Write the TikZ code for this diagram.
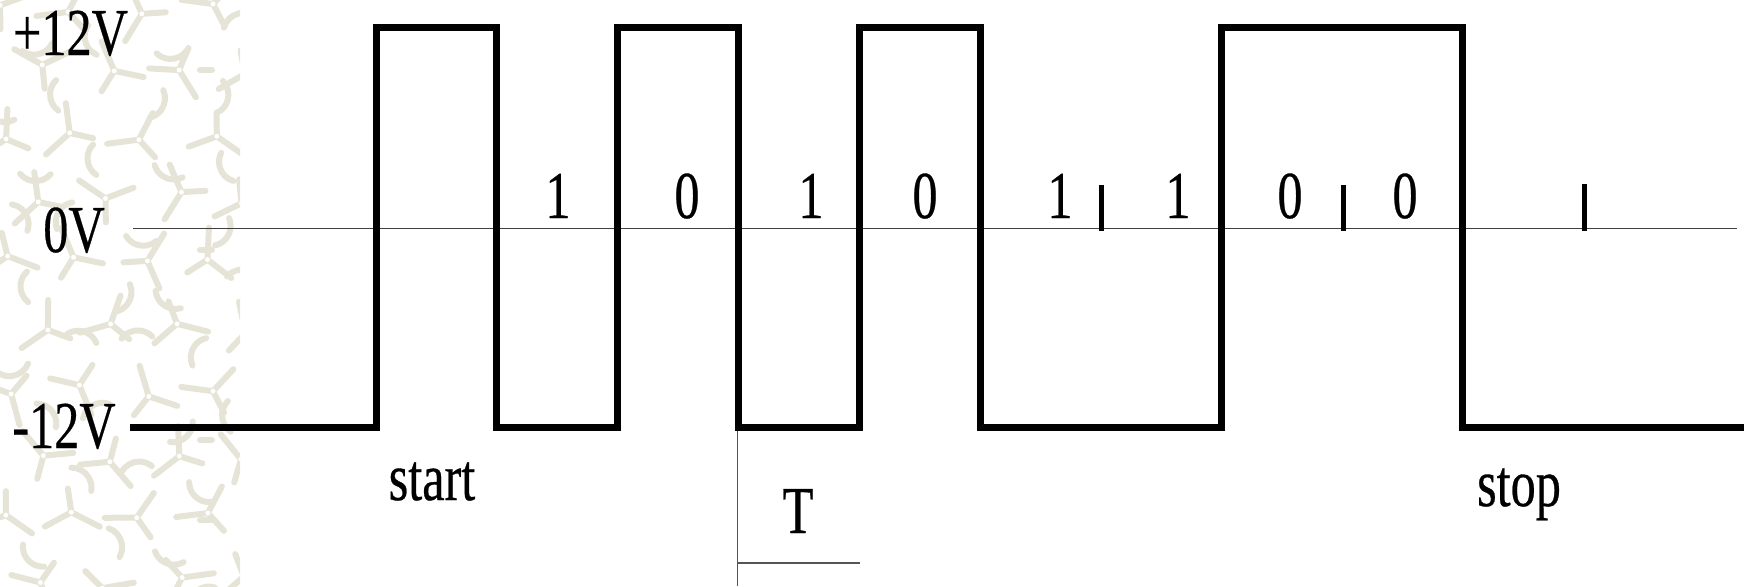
\documentclass[tikz,border=0pt]{standalone}
\usepackage{fontspec}
\setmainfont{Liberation Serif}[FakeBold=0.5]
\usepackage{graphicx}
\definecolor{pat}{HTML}{E6E3D7}
\definecolor{axisgray}{HTML}{404040}
\definecolor{tgray}{HTML}{555555}
\newcommand{\sqz}[1]{\scalebox{0.75}[1]{#1}}
\tikzset{
  wave/.style={line width=3.5pt, line join=miter},
  axisline/.style={line width=0.75pt, draw=axisgray},
  tickmark/.style={line width=2.5pt},
  tline/.style={line width=0.8pt, draw=tgray},
  lbl/.style={anchor=base, inner sep=0pt, font=\fontsize{33.5}{40}\selectfont},
  patstroke/.style={draw=pat, line width=3pt, line cap=round, line join=round}
}
\begin{document}
\begin{tikzpicture}[x=0.5pt,y=-0.5pt]
\useasboundingbox (0,0) rectangle (1744,586);
% decorative background strip
\begin{scope}
  \clip (0,0) rectangle (240,586);
  \pgfmathsetseed{23}
  \foreach \i in {0,...,3} {
    \foreach \j in {0,...,9} {
      \pgfmathsetmacro{\cx}{\i*68 + mod(\j,2)*34 + rnd*14}
      \pgfmathsetmacro{\cy}{\j*64 + rnd*14}
      \pgfmathsetmacro{\ang}{rnd*360}
      \draw[patstroke] (\cx,\cy) -- ++(\ang:30) (\cx,\cy) -- ++(\ang+110:24) (\cx,\cy) -- ++(\ang+235:32);
      \fill[white] (\cx,\cy) circle[radius=2.5];
    }
  }
  \foreach \i in {0,...,3} {
    \foreach \j in {0,...,9} {
      \pgfmathsetmacro{\cx}{\i*68 + 34 - mod(\j,2)*34 + rnd*10}
      \pgfmathsetmacro{\cy}{\j*64 + 30 + rnd*10}
      \pgfmathsetmacro{\ang}{rnd*360}
      \draw[patstroke] (\cx,\cy) ++(\ang:20) arc[start angle=\ang, delta angle=100, radius=20];
    }
  }
  \draw[patstroke] (200,70) -- (212,70) (200,250) -- (212,250) (200,440) -- (212,440) (200,520) -- (212,520);
\end{scope}

% named coordinates of the waveform
\coordinate (w0) at (130,427);
\coordinate (w1) at (376,27.5);
\coordinate (w2) at (496.75,427);
\coordinate (w3) at (617.5,27.5);
\coordinate (w4) at (738.25,427);
\coordinate (w5) at (859,27.5);
\coordinate (w6) at (980,427);
\coordinate (w7) at (1221.25,27.5);
\coordinate (w8) at (1462.75,427);
\coordinate (w9) at (1744,427);

% 0V axis
\coordinate (ax0) at (133,228.5);
\coordinate (ax1) at (1737,228.5);
\draw[axisline] (ax0) -- (ax1);

% waveform
\draw[wave] (w0) -| (w1) -| (w2) -| (w3) -| (w4) -| (w5) -| (w6) -| (w7) -| (w8) -- (w9);

% bit separators
\coordinate (t1a) at (1101,185); \coordinate (t1b) at (1101,231);
\coordinate (t2a) at (1343,185); \coordinate (t2b) at (1343,231);
\coordinate (t3a) at (1584,184); \coordinate (t3b) at (1584,231);
\draw[tickmark] (t1a) -- (t1b);
\draw[tickmark] (t2a) -- (t2b);
\draw[tickmark] (t3a) -- (t3b);

% period marker
\coordinate (pa) at (737.5,431);
\coordinate (pb) at (737.5,586);
\coordinate (pc) at (737.5,563);
\coordinate (pd) at (860,563);
\draw[tline] (pa) -- (pb);
\draw[tline] (pc) -- (pd);

% level labels
\node[lbl] (lp) at (70.5,55) {\sqz{+12V}};
\node[lbl] (lz) at (74,252) {\sqz{0V}};
\node[lbl] (lm) at (64,448) {\sqz{-12V}};

% bit labels
\node[lbl] (b1) at (558,218) {\sqz{1}};
\node[lbl] (b2) at (687,218) {\sqz{0}};
\node[lbl] (b3) at (811,218) {\sqz{1}};
\node[lbl] (b4) at (925,218) {\sqz{0}};
\node[lbl] (b5) at (1060,218) {\sqz{1}};
\node[lbl] (b6) at (1178,218) {\sqz{1}};
\node[lbl] (b7) at (1290,218) {\sqz{0}};
\node[lbl] (b8) at (1405,218) {\sqz{0}};

% other labels
\node[lbl] (st) at (432,500) {\sqz{start}};
\node[lbl] (sp) at (1519,506) {\sqz{stop}};
\node[lbl] (tt) at (798,533) {\sqz{T}};
\end{tikzpicture}
\end{document}
